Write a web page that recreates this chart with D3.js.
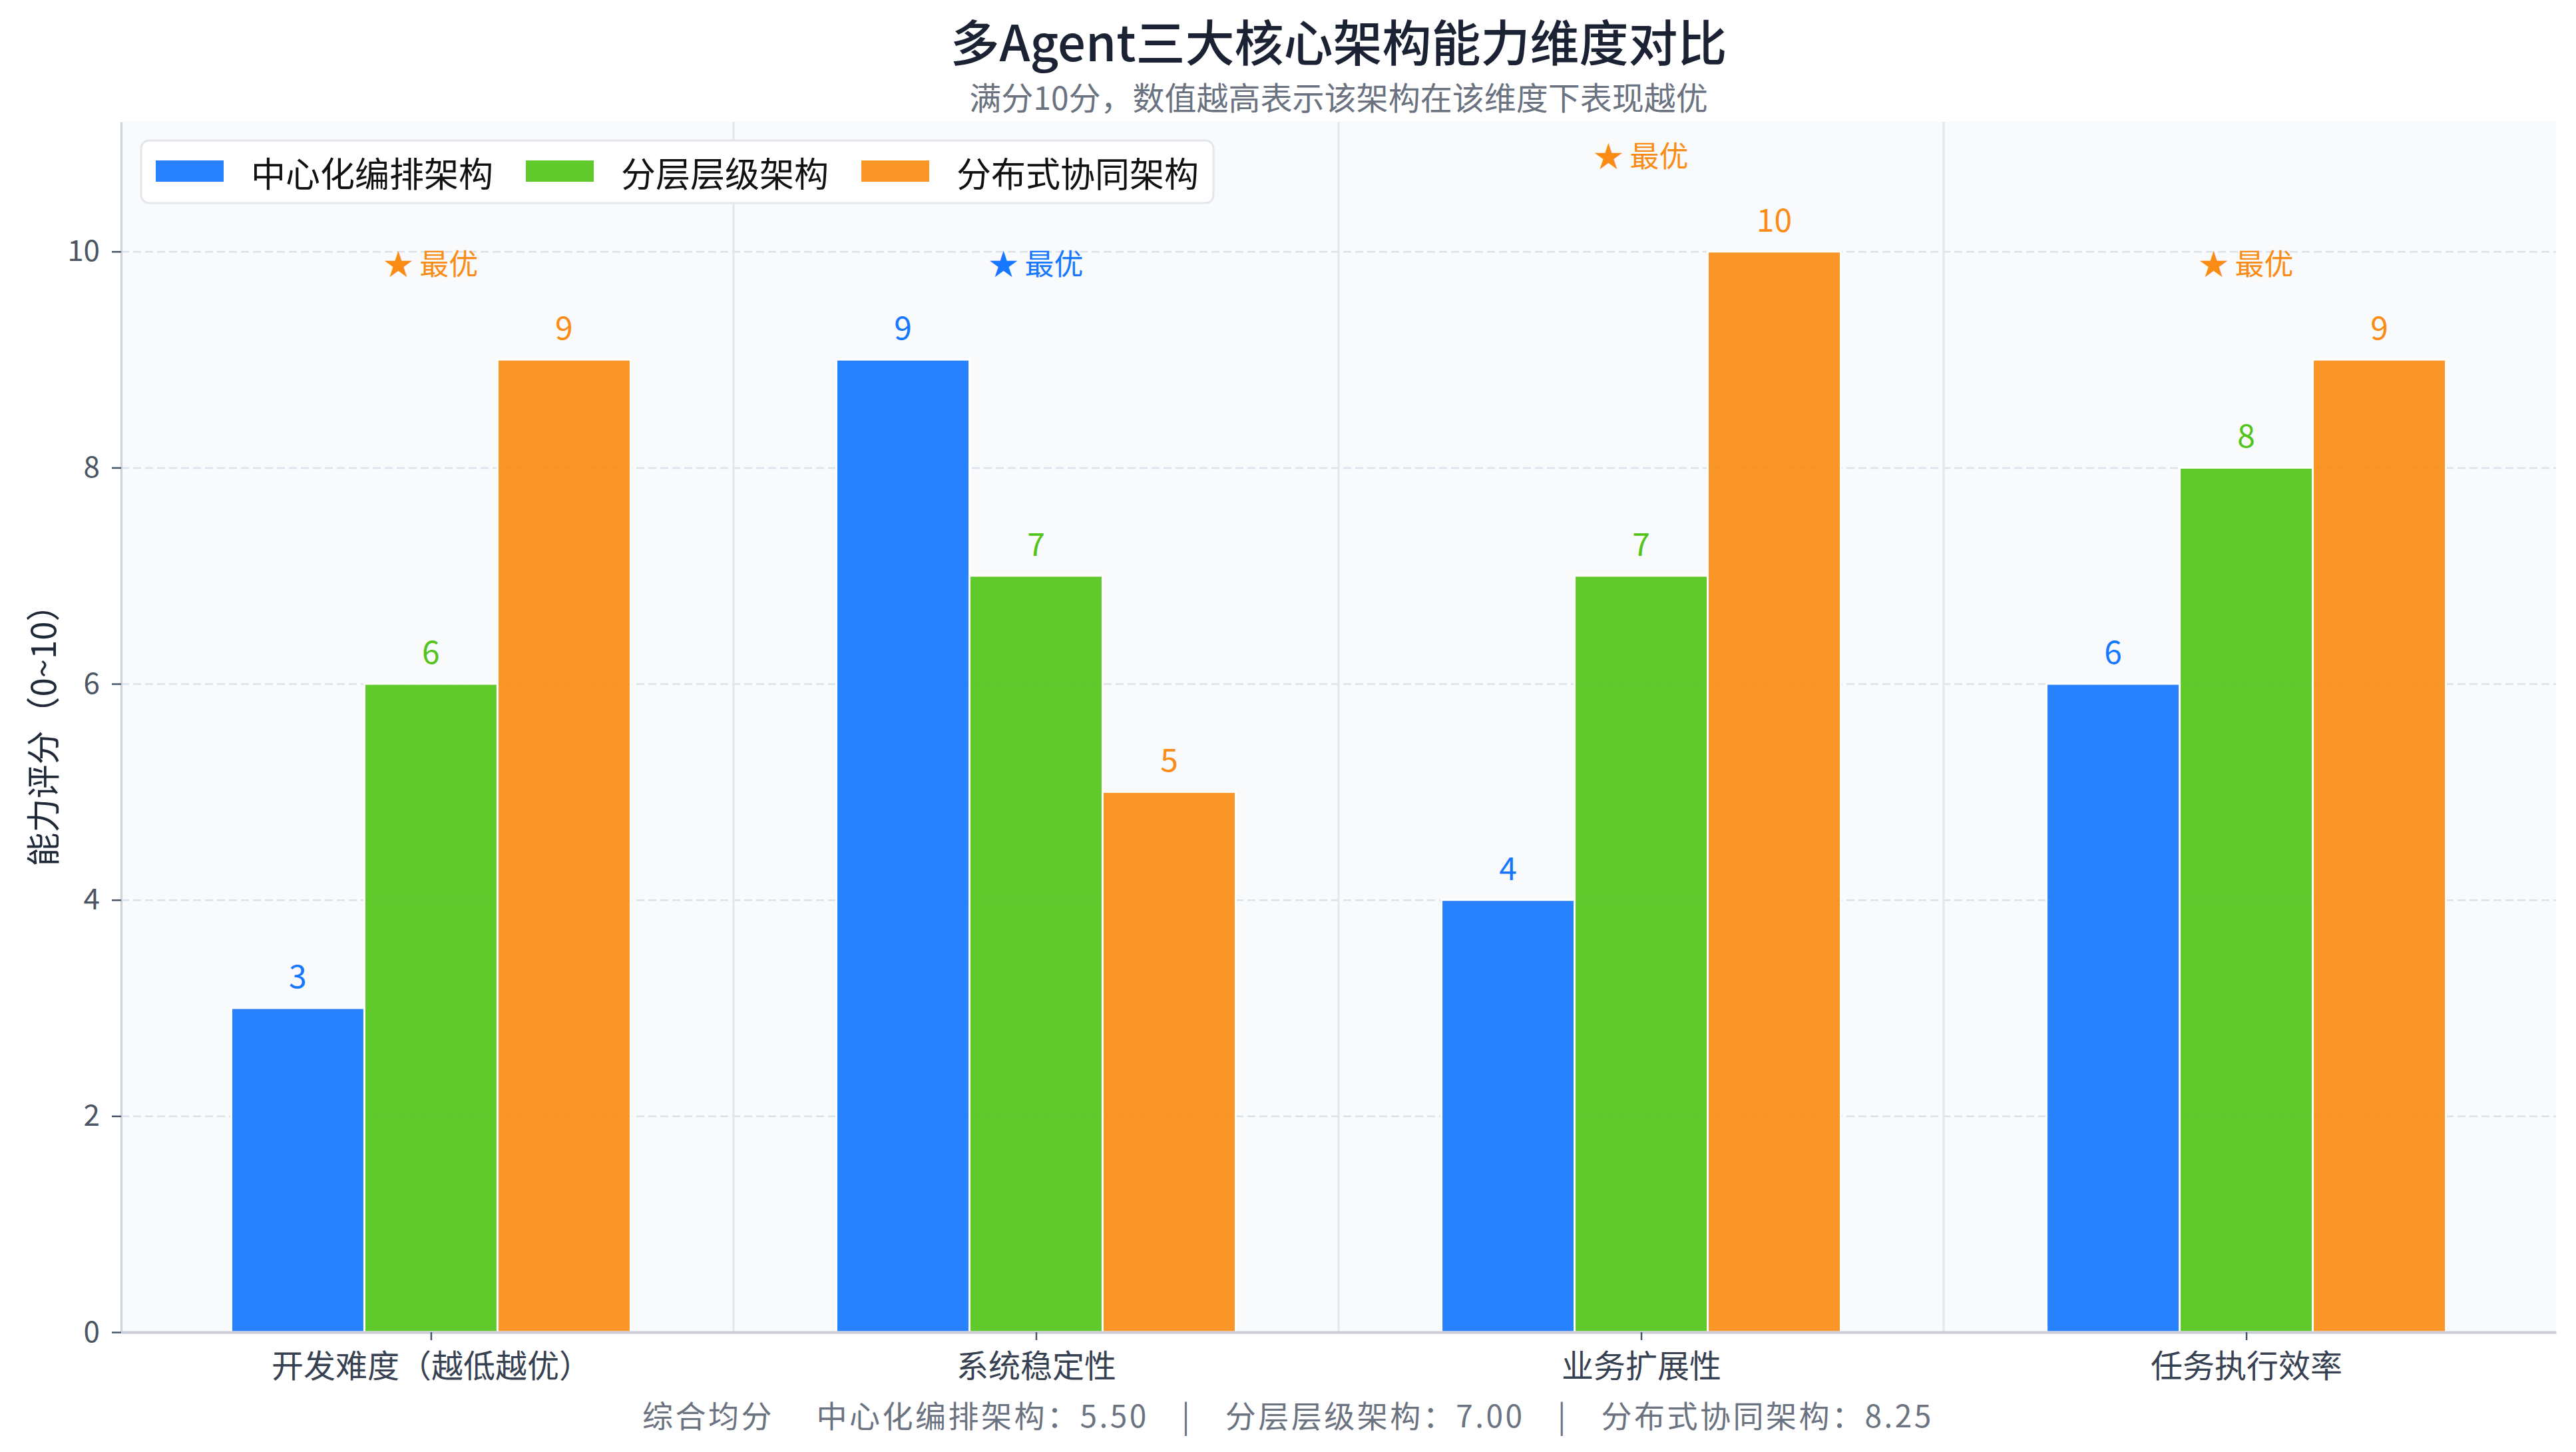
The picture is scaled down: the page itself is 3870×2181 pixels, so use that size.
<!DOCTYPE html>
<html>
<head>
<meta charset="utf-8">
<script src="https://cdn.jsdelivr.net/npm/d3@7"></script>
<style>
  html, body { margin: 0; padding: 0; background: #fff; }
  svg { display: block; font-family: "Noto Sans CJK SC", "Noto Sans", sans-serif; }
</style>
</head>
<body>
<svg id="chart" width="3870" height="2181"></svg>
<script>
// 数据
const categories = ["开发难度（越低越优）", "系统稳定性", "业务扩展性", "任务执行效率"];
const seriesNames = ["中心化编排架构", "分层层级架构", "分布式协同架构"];
const centralScores = [3, 9, 4, 6];
const layeredScores = [6, 7, 7, 8];
const distributedScores = [9, 5, 10, 9];
const seriesColors = ["#1677ff", "#52c41a", "#fa8c16"];
const yTicks = [0, 2, 4, 6, 8, 10];

const titleText = "多Agent三大核心架构能力维度对比";
const subtitleText = "满分10分，数值越高表示该架构在该维度下表现越优";
const yLabelText = "能力评分（0~10）";
const bestText = "★ 最优";

const width = 3870;
const height = 2181;
const margin = { top: 183, right: 30, bottom: 180, left: 182 };
const plotW = width - margin.left - margin.right;
const plotH = height - margin.top - margin.bottom;
const barWidth = 0.22;

const series = seriesNames.map((name, i) => ({
  name: name,
  color: seriesColors[i],
  values: [centralScores, layeredScores, distributedScores][i]
}));

const svg = d3.select("#chart");

// 比例尺
const xScale = d3.scaleLinear()
  .domain([-0.512, categories.length - 0.488])
  .range([0, plotW]);
const yScale = d3.scaleLinear()
  .domain([0, 11.2])
  .range([plotH, 0]);

const g = svg.append("g")
  .attr("transform", `translate(${margin.left},${margin.top})`);

// 绘图区背景
g.append("rect")
  .attr("width", plotW)
  .attr("height", plotH)
  .attr("fill", "#f8fafc");

// 横向虚线网格
g.append("g")
  .call(d3.axisLeft(yScale).tickValues(yTicks.slice(1)).tickSize(-plotW).tickFormat(""))
  .call((s) => s.select(".domain").remove())
  .selectAll("line")
  .attr("stroke", "#dce2ea")
  .attr("stroke-width", 2.5)
  .attr("stroke-dasharray", "12,6");

// 类别分隔线
g.selectAll(".sep")
  .data(d3.range(categories.length - 1))
  .join("line")
  .attr("class", "sep")
  .attr("x1", (d) => xScale(d + 0.5))
  .attr("x2", (d) => xScale(d + 0.5))
  .attr("y1", 0)
  .attr("y2", plotH)
  .attr("stroke", "#e3e6eb")
  .attr("stroke-width", 3);

// 柱子
const seriesG = g.selectAll(".series")
  .data(series)
  .join("g")
  .attr("class", "series");

seriesG.selectAll("rect")
  .data((s, si) => s.values.map((v, ci) => ({ v: v, ci: ci, si: si, color: s.color })))
  .join("rect")
  .attr("x", (d) => xScale(d.ci + (d.si - 1) * barWidth - barWidth / 2))
  .attr("width", xScale(barWidth) - xScale(0))
  .attr("y", (d) => yScale(d.v))
  .attr("height", (d) => plotH - yScale(d.v))
  .attr("fill", (d) => d.color)
  .attr("fill-opacity", 0.92)
  .attr("stroke", "#fff")
  .attr("stroke-width", 3);

// 数值标签
seriesG.selectAll("text")
  .data((s, si) => s.values.map((v, ci) => ({ v: v, ci: ci, si: si, color: s.color })))
  .join("text")
  .attr("x", (d) => xScale(d.ci + (d.si - 1) * barWidth))
  .attr("y", (d) => yScale(d.v) - 30)
  .attr("text-anchor", "middle")
  .style("font-size", "48px")
  .style("fill", (d) => d.color)
  .text((d) => d.v);

// 最优标记
const best = categories.map((c, ci) => {
  const vals = series.map((s) => s.values[ci]);
  const si = d3.maxIndex(vals);
  return { ci: ci, v: vals[si], color: series[si].color };
});

g.selectAll(".best")
  .data(best)
  .join("text")
  .attr("class", "best")
  .attr("x", (d) => xScale(d.ci))
  .attr("y", (d) => yScale(d.v) - 127)
  .attr("text-anchor", "middle")
  .style("font-size", "44px")
  .style("fill", (d) => d.color)
  .text(bestText);

// y 轴
const yAxisG = g.append("g")
  .call(d3.axisLeft(yScale).tickValues(yTicks).tickSize(14).tickSizeOuter(0).tickPadding(18));
yAxisG.select(".domain").attr("stroke", "#cbd2dc").attr("stroke-width", 3);
yAxisG.selectAll(".tick line").attr("stroke", "#475569").attr("stroke-width", 2.5);
yAxisG.selectAll(".tick text")
  .style("font-size", "44px")
  .style("fill", "#4b5563")
  .style("font-family", "'Noto Sans CJK SC', sans-serif");

// x 轴
const xAxisG = g.append("g")
  .attr("transform", `translate(0,${plotH})`)
  .call(d3.axisBottom(xScale)
    .tickValues(d3.range(categories.length))
    .tickFormat((i) => categories[i])
    .tickSize(12)
    .tickSizeOuter(0)
    .tickPadding(22));
xAxisG.select(".domain").attr("stroke", "#cbced9").attr("stroke-width", 4);
xAxisG.selectAll(".tick line").attr("stroke", "#475569").attr("stroke-width", 2.5);
xAxisG.selectAll(".tick text")
  .style("font-size", "48px")
  .style("fill", "#374151")
  .style("font-family", "'Noto Sans CJK SC', sans-serif");

// 标题
svg.append("text")
  .attr("x", margin.left + plotW / 2)
  .attr("y", 92)
  .attr("text-anchor", "middle")
  .style("font-size", "74px")
  .style("font-weight", "500")
  .style("fill", "#1a2233")
  .text(titleText);

svg.append("text")
  .attr("x", margin.left + plotW / 2)
  .attr("y", 165)
  .attr("text-anchor", "middle")
  .style("font-size", "48px")
  .style("fill", "#6b7280")
  .text(subtitleText);

// y 轴标题
svg.append("text")
  .attr("transform", `translate(62,${margin.top + plotH / 2}) rotate(-90)`)
  .attr("text-anchor", "middle")
  .attr("dominant-baseline", "central")
  .style("font-size", "51px")
  .style("fill", "#1f2937")
  .text(yLabelText);

// 图例
const legend = svg.append("g").attr("transform", "translate(212,211)");
const legendBox = legend.append("rect")
  .attr("height", 94)
  .attr("rx", 12)
  .attr("fill", "#fff")
  .attr("fill-opacity", 0.95)
  .attr("stroke", "#e3e6eb")
  .attr("stroke-width", 3);

let cursor = 22;
series.forEach((s) => {
  const item = legend.append("g").attr("transform", `translate(${cursor},0)`);
  item.append("rect")
    .attr("y", 30)
    .attr("width", 102)
    .attr("height", 32)
    .attr("fill", s.color)
    .attr("fill-opacity", 0.92);
  const t = item.append("text")
    .attr("x", 143)
    .attr("y", 47)
    .attr("dominant-baseline", "central")
    .style("font-size", "52px")
    .style("fill", "#111")
    .text(s.name);
  cursor += 143 + t.node().getComputedTextLength() + 49;
});
legendBox.attr("width", cursor - 49 + 22);

// 综合均分
const means = series.map((s) => s.name + "：" + d3.mean(s.values).toFixed(2));
svg.append("text")
  .attr("x", width / 2)
  .attr("y", 2144)
  .attr("text-anchor", "middle")
  .style("white-space", "pre")
  .style("letter-spacing", "3.5px")
  .style("font-size", "46px")
  .style("fill", "#6b7280")
  .text("综合均分\u3000 " + means.join("\u3000|\u3000"));
</script>
</body>
</html>
